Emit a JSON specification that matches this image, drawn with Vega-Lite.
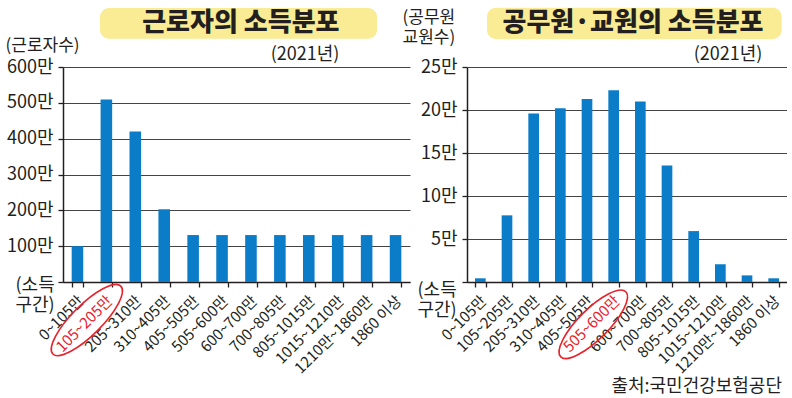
{
  "$schema": "https://vega.github.io/schema/vega-lite/v6.json",
  "padding": {"left": 5, "top": 7, "right": 0, "bottom": 0},
  "background": "white",
  "spacing": -8,
  "config": {
    "font": "Noto Sans CJK KR",
    "view": {"stroke": null},
    "axis": {
      "labelFont": "Noto Sans CJK KR",
      "titleFont": "Noto Sans CJK KR",
      "labelColor": "#231f20",
      "titleColor": "#231f20",
      "titleFontWeight": "normal",
      "domainColor": "#231f20",
      "tickColor": "#231f20",
      "gridColor": "#444444",
      "domainWidth": 1.5,
      "tickWidth": 1.3,
      "gridWidth": 1,
      "labelOverlap": false,
      "labelFlush": false
    }
  },
  "datasets": {
    "workers": [
      {"range": "0~105만", "count": 100},
      {"range": "105~205만", "count": 509},
      {"range": "205~310만", "count": 420},
      {"range": "310~405만", "count": 203},
      {"range": "405~505만", "count": 131},
      {"range": "505~600만", "count": 131},
      {"range": "600~700만", "count": 131},
      {"range": "700~805만", "count": 131},
      {"range": "805~1015만", "count": 131},
      {"range": "1015~1210만", "count": 131},
      {"range": "1210만~1860만", "count": 131},
      {"range": "1860 이상", "count": 131}
    ],
    "officials": [
      {"range": "0~105만", "count": 0.43},
      {"range": "105~205만", "count": 7.75},
      {"range": "205~310만", "count": 19.59},
      {"range": "310~405만", "count": 20.2},
      {"range": "405~505만", "count": 21.28},
      {"range": "505~600만", "count": 22.29},
      {"range": "600~700만", "count": 20.98},
      {"range": "700~805만", "count": 13.55},
      {"range": "805~1015만", "count": 5.92},
      {"range": "1015~1210만", "count": 2.06},
      {"range": "1210만~1860만", "count": 0.77},
      {"range": "1860 이상", "count": 0.43}
    ]
  },
  "title": {"text": "출처:국민건강보험공단", "orient": "bottom", "anchor": "end", "fontSize": 18, "fontWeight": "normal", "color": "#231f20", "offset": 2, "dx": -5},
  "hconcat": [
    {
      "width": 347,
      "height": 215,
      "layer": [
        {
          "data": {"name": "workers"},
          "mark": {"type": "bar", "color": "#0A7CC8"},
          "encoding": {
            "x": {
              "field": "range", "type": "nominal",
              "scale": {"domain": ["0~105만", "105~205만", "205~310만", "310~405만", "405~505만", "505~600만", "600~700만", "700~805만", "805~1015만", "1015~1210만", "1210만~1860만", "1860 이상"], "paddingInner": 0.6, "paddingOuter": 0.3},
              "axis": {
                "title": ["(소득", "구간)"], "titleAngle": 0, "titleAlign": "left", "titleBaseline": "top", "titleX": -48, "titleY": -6, "titleFontSize": 18, "titleLineHeight": 20.5,
                "labelAngle": -45, "labelFont": "'Liberation Sans Narrow', 'Noto Sans CJK KR'", "labelFontSize": 15, "labelPadding": 6, "labelOffset": -2, "labelOverlap": false,
                "tickBand": "extent", "tickSize": 5,
                "labelColor": {"condition": {"test": "datum.value === '105~205만'", "value": "#E8212B"}, "value": "#231f20"}
              }
            },
            "y": {
              "field": "count", "type": "quantitative",
              "scale": {"domain": [0, 600], "nice": false},
              "axis": {
                "title": "(근로자수)", "titleAngle": 0, "titleAlign": "left", "titleBaseline": "top", "titleX": -58, "titleY": -30, "titleFontSize": 17,
                "values": [0, 100, 200, 300, 400, 500, 600], "tickCount": 7, "labelExpr": "datum.value === 0 ? '' : datum.value + '만'", "labelOverlap": false,
                "labelFontSize": 18, "labelPadding": 5, "tickSize": 5, "grid": true
              }
            }
          }
        },
        {
          "data": {"values": [{"title": "근로자의 소득분포", "year": "(2021년)"}]},
          "mark": {"type": "rect", "color": "#F9EC94", "cornerRadius": 9},
          "encoding": {
            "x": {"datum": "105~205만", "bandPosition": -0.05},
            "x2": {"datum": "1210만~1860만", "bandPosition": 1.4},
            "y": {"datum": 765, "axis": {"values": [0, 100, 200, 300, 400, 500, 600], "tickCount": 7}},
            "y2": {"datum": 679}
          }
        },
        {
          "data": {"values": [{"title": "근로자의 소득분포", "year": "(2021년)"}]},
          "mark": {"type": "text", "fontSize": 26, "fontWeight": 900, "color": "#231f20", "baseline": "middle", "align": "center"},
          "encoding": {
            "x": {"datum": "600~700만", "bandPosition": -0.375},
            "y": {"datum": 722, "axis": {"values": [0, 100, 200, 300, 400, 500, 600], "tickCount": 7}},
            "text": {"field": "title"}
          }
        },
        {
          "data": {"values": [{"title": "근로자의 소득분포", "year": "(2021년)"}]},
          "mark": {"type": "text", "fontSize": 18, "color": "#231f20", "baseline": "middle", "align": "center"},
          "encoding": {
            "x": {"datum": "805~1015만", "bandPosition": 0.175},
            "y": {"datum": 633, "axis": {"values": [0, 100, 200, 300, 400, 500, 600], "tickCount": 7}},
            "text": {"field": "year"}
          }
        },
        {
          "data": {"name": "workers"},
          "transform": [{"filter": "datum.range === '105~205만'"}],
          "mark": {"type": "point", "shape": "M -1.848 0.273 A 1 0.3125 0 1 1 0.152 0.273 A 1 0.3125 0 1 1 -1.848 0.273 Z", "size": 9216, "angle": -45, "filled": false, "stroke": "#E8212B", "strokeWidth": 1.6, "opacity": 1},
          "encoding": {
            "x": {"field": "range", "type": "nominal"},
            "y": {"datum": 0, "axis": {"values": [0, 100, 200, 300, 400, 500, 600], "tickCount": 7}}
          }
        }
      ]
    },
    {
      "width": 320,
      "height": 215,
      "layer": [
        {
          "data": {"name": "officials"},
          "mark": {"type": "bar", "color": "#0A7CC8"},
          "encoding": {
            "x": {
              "field": "range", "type": "nominal",
              "scale": {"domain": ["0~105만", "105~205만", "205~310만", "310~405만", "405~505만", "505~600만", "600~700만", "700~805만", "805~1015만", "1015~1210만", "1210만~1860만", "1860 이상"], "paddingInner": 0.6, "paddingOuter": 0.3},
              "axis": {
                "title": ["(소득", "구간)"], "titleAngle": 0, "titleAlign": "left", "titleBaseline": "top", "titleX": -50, "titleY": -1, "titleFontSize": 18, "titleLineHeight": 20.5,
                "labelAngle": -45, "labelFont": "'Liberation Sans Narrow', 'Noto Sans CJK KR'", "labelFontSize": 15, "labelPadding": 6, "labelOffset": -2, "labelOverlap": false,
                "tickBand": "extent", "tickSize": 5,
                "labelColor": {"condition": {"test": "datum.value === '505~600만'", "value": "#E8212B"}, "value": "#231f20"}
              }
            },
            "y": {
              "field": "count", "type": "quantitative",
              "scale": {"domain": [0, 25], "nice": false},
              "axis": {
                "title": ["(공무원", "교원수)"], "titleAngle": 0, "titleAlign": "left", "titleBaseline": "top", "titleX": -65, "titleY": -58, "titleFontSize": 17, "titleLineHeight": 20.5,
                "values": [0, 5, 10, 15, 20, 25], "labelExpr": "datum.value === 0 ? '' : datum.value + '만'", "labelOverlap": false,
                "labelFontSize": 18, "labelPadding": 5, "tickSize": 5, "grid": true
              }
            }
          }
        },
        {
          "data": {"values": [{"title": "공무원·교원의 소득분포", "year": "(2021년)"}]},
          "mark": {"type": "rect", "color": "#F9EC94", "cornerRadius": 9},
          "encoding": {
            "x": {"datum": "0~105만", "bandPosition": 1.125},
            "x2": {"datum": "1860 이상", "bandPosition": 1.25},
            "y": {"datum": 31.9},
            "y2": {"datum": 28.26}
          }
        },
        {
          "data": {"values": [{"title": "공무원·교원의 소득분포", "year": "(2021년)"}]},
          "mark": {"type": "text", "fontSize": 26, "fontWeight": 900, "color": "#231f20", "baseline": "middle", "align": "center"},
          "encoding": {
            "x": {"datum": "600~700만", "bandPosition": -0.1875},
            "y": {"datum": 30.08},
            "text": {"field": "title"}
          }
        },
        {
          "data": {"values": [{"title": "공무원·교원의 소득분포", "year": "(2021년)"}]},
          "mark": {"type": "text", "fontSize": 18, "color": "#231f20", "baseline": "middle", "align": "center"},
          "encoding": {
            "x": {"datum": "1015~1210만", "bandPosition": 1.225},
            "y": {"datum": 26.4},
            "text": {"field": "year"}
          }
        },
        {
          "data": {"name": "officials"},
          "transform": [{"filter": "datum.range === '505~600만'"}],
          "mark": {"type": "point", "shape": "M -1.963 0.337 A 1 0.326 0 1 1 0.037 0.337 A 1 0.326 0 1 1 -1.963 0.337 Z", "size": 8464, "angle": -45, "filled": false, "stroke": "#E8212B", "strokeWidth": 1.6, "opacity": 1},
          "encoding": {
            "x": {"field": "range", "type": "nominal"},
            "y": {"datum": 0}
          }
        }
      ]
    }
  ]
}
